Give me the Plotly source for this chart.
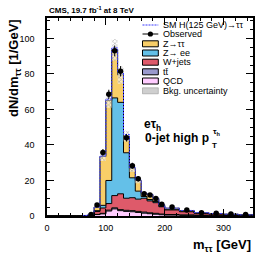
import numpy as np
import plotly.graph_objects as go

# ---------------- data ----------------
edges = [0, 10, 20, 30, 40, 50, 60, 70, 80, 90, 100, 110, 120, 130, 140, 150,
         160, 170, 180, 190, 200, 225, 250, 275, 300, 325, 350]
qcd = [0, 0, 0, 0, 0, 0, 0, 0.2, 0.8, 1.2, 2.8, 4.0, 3.0, 2.6, 2.4, 2.0, 1.6,
       1.3, 1.0, 0.7, 0.5, 0.35, 0.25, 0.15, 0.1, 0.08]
ttbar = [0, 0, 0, 0, 0, 0, 0, 0.0, 0.1, 0.3, 0.5, 0.6, 0.6, 0.6, 0.6, 0.6, 0.6,
         0.5, 0.5, 0.4, 0.35, 0.3, 0.25, 0.2, 0.15, 0.12]
wjets = [0, 0, 0, 0, 0, 0, 0.1, 0.3, 1.6, 3.0, 3.7, 6.9, 8.9, 6.8, 7.3, 6.9, 7.8,
         6.7, 6.0, 4.1, 2.55, 1.75, 1.0, 0.75, 0.55, 0.3]
zee = [0, 0, 0, 0, 0, 0, 0, 0.1, 0.5, 1.5, 13.0, 55.0, 51.5, 25.6, 11.2, 4.5, 1.0,
       0.8, 0.7, 0.4, 0.4, 0.3, 0.2, 0.1, 0.1, 0.05]
ztt = [0, 0, 0, 0, 0, 0, 0.2, 0.4, 2.0, 27.5, 45.0, 27.0, 15.5, 9.4, 5.3, 6.0, 1.8,
       2.7, 1.6, 0.7, 0.6, 0.4, 0.2, 0.2, 0.1, 0.1]
signal = [0, 0, 0, 0, 0, 0, 0, 0, 0, 0.3, 0.8, 1.2, 1.3, 0.9, 0.5, 0.3, 0.2,
          0.1, 0.1, 0.05, 0.03, 0.02, 0.01, 0, 0, 0]
bkg_unc = [0, 0, 0, 0, 0, 0, 0.05, 0.1, 0.4, 2.5, 4.0, 6.0, 5.0, 3.0, 2.0, 1.5, 0.8,
           0.8, 0.6, 0.4, 0.3, 0.2, 0.15, 0.1, 0.08, 0.06]
observed = [None] * 7 + [0.8, 6.2, 35.8, 68.5, 93.0, 81.5, 44.0, 28.3, 21.0, 12.5,
                         11.8, 9.8, 6.6, 5.0, 3.4, 1.9, 1.5, 1.1, 0.8]
observed_err = [None] * 7 + [0.3, 0.8, 1.9, 2.6, 3.0, 2.9, 2.1, 1.7, 1.5, 1.1,
                             1.1, 1.0, 0.8, 0.45, 0.37, 0.28, 0.25, 0.21, 0.18]

legend_labels = ["SM H(125 GeV)→ττ", "Observed", "Z→ττ", "Z→ ee", "W+jets",
                 "tt\u0304", "QCD", "Bkg. uncertainty"]
x_ticks = [0, 100, 200, 300]
y_ticks = [0, 20, 40, 60, 80, 100]

# ---------------- styles ----------------
FONT = "Liberation Sans"
col = {"qcd": "#FFCCFF", "tt": "#9999CC", "w": "#DE5A6A", "zee": "#64C0E8",
       "ztt": "#F8CE68", "sig": "#3B3BFF"}

W, H = 266, 255
L, R, T, B = 47, 13, 18, 39
PW, PH = W - L - R, H - T - B


def px(xp):
    return (xp - L) / PW


def py(yp):
    return (H - B - yp) / PH


def steps(vals):
    v = list(vals)
    return v + [v[-1]]


def bold(size):
    return dict(family=FONT, size=size, color="black", weight="bold")


fig = go.Figure()

# stacked components (bottom to top)
components = [("QCD", qcd, col["qcd"]), ("tt\u0304", ttbar, col["tt"]),
              ("W+jets", wjets, col["w"]), ("Z→ ee", zee, col["zee"]),
              ("Z→ττ", ztt, col["ztt"])]
cum = np.zeros(len(qcd))
for i, (name, vals, c) in enumerate(components):
    cum = cum + np.array(vals, dtype=float)
    fig.add_trace(go.Scatter(
        x=edges, y=steps(cum), mode="lines", line=dict(shape="hv", color="black", width=1),
        fill="tozeroy" if i == 0 else "tonexty", fillcolor=c, name=name, showlegend=False,
        hoverinfo="skip"))
total = cum.copy()

# background uncertainty band (hatched)
unc = np.array(bkg_unc)
fig.add_trace(go.Scatter(x=edges, y=steps(total - unc), mode="lines",
                         line=dict(shape="hv", width=0, color="rgba(0,0,0,0)"),
                         showlegend=False, hoverinfo="skip"))
fig.add_trace(go.Scatter(x=edges, y=steps(total + unc), mode="lines",
                         line=dict(shape="hv", width=0, color="rgba(0,0,0,0)"),
                         fill="tonexty", fillcolor="rgba(0,0,0,0)",
                         fillpattern=dict(shape="x", fgcolor="#707070",
                                          bgcolor="rgba(255,255,255,0.55)", size=3, solidity=0.4),
                         name="Bkg. uncertainty", showlegend=False, hoverinfo="skip"))

# signal stacked on top (dashed)
first = 6
sig_top = total + np.array(signal)
fig.add_trace(go.Scatter(x=edges[first:], y=steps(sig_top[first:]), mode="lines",
                         line=dict(shape="hv", color=col["sig"], width=1, dash="2px,1px"),
                         name="SM H(125 GeV)→ττ", showlegend=False, hoverinfo="skip"))

# observed
centers = [(edges[i] + edges[i + 1]) / 2 for i in range(len(edges) - 1)]
fig.add_trace(go.Scatter(x=centers, y=observed, mode="markers",
                         marker=dict(color="black", size=5.5),
                         error_y=dict(type="data", array=observed_err, color="black",
                                      thickness=1, width=0),
                         name="Observed", showlegend=False))

# ---------------- axes ----------------
axis_common = dict(showline=True, linecolor="black", linewidth=1.5, mirror="allticks",
                   ticks="inside", ticklen=7, tickwidth=1, tickcolor="black",
                   showgrid=False, zeroline=False,
                   tickfont=dict(family=FONT, size=9, color="black"))
fig.update_xaxes(range=[0, 350], tickvals=x_ticks, ticklabelstandoff=2,
                 minor=dict(ticks="inside", ticklen=3.5, dtick=20, tick0=0, tickcolor="black",
                            showgrid=False),
                 **axis_common)
fig.update_yaxes(range=[0, 111.5], tickvals=y_ticks, ticklabelstandoff=9,
                 minor=dict(ticks="inside", ticklen=3.5, dtick=5, tick0=0, tickcolor="black",
                            showgrid=False),
                 **axis_common)

# ---------------- manual legend ----------------
shapes = []
annotations = []
rows = [25, 34, 43.8, 53, 62.2, 71.8, 81, 90.8]
sx0, sx1 = 142.5, 158.3
kinds = ["sig", "obs", "ztt", "zee", "w", "tt", "qcd", "unc"]
for lab, yc, k in zip(legend_labels, rows, kinds):
    if k == "sig":
        shapes.append(dict(type="line", xref="paper", yref="paper", x0=px(sx0), x1=px(sx1),
                           y0=py(yc), y1=py(yc), line=dict(color=col["sig"], width=1.2, dash="2px,1px")))
    elif k == "obs":
        shapes.append(dict(type="line", xref="paper", yref="paper", x0=px(sx0), x1=px(sx1),
                           y0=py(yc), y1=py(yc), line=dict(color="black", width=1)))
        cx = (sx0 + sx1) / 2
        shapes.append(dict(type="circle", xref="paper", yref="paper", x0=px(cx - 2.6), x1=px(cx + 2.6),
                           y0=py(yc + 2.6), y1=py(yc - 2.6), fillcolor="black", line=dict(width=0)))
    else:
        fc = "#cfcfcf" if k == "unc" else col[k]
        lw = 0.6 if k == "unc" else 1
        lc = "#999999" if k == "unc" else "black"
        shapes.append(dict(type="rect", xref="paper", yref="paper", x0=px(sx0), x1=px(sx1),
                           y0=py(yc + 3), y1=py(yc - 3), fillcolor=fc, line=dict(color=lc, width=lw)))
    annotations.append(dict(xref="paper", yref="paper", x=px(161), y=py(yc), xanchor="left",
                            yanchor="middle", text=lab, showarrow=False,
                            font=dict(family=FONT, size=9, color="black")))

# texts
annotations += [
    dict(xref="paper", yref="paper", x=px(47), y=py(17.5), xanchor="left", yanchor="bottom",
         text="CMS, 19.7 fb<sup>-1</sup> at 8 TeV", showarrow=False, font=bold(8)),
    dict(xref="paper", yref="paper", x=px(142), y=py(124.5), xanchor="left", yanchor="middle",
         text="eτ<sub>h</sub>", showarrow=False, font=bold(12)),
    dict(xref="paper", yref="paper", x=px(142.5), y=py(138), xanchor="left", yanchor="middle",
         text="0-jet high p", showarrow=False, font=bold(12)),
    dict(xref="paper", yref="paper", x=px(209.5), y=py(145), xanchor="left", yanchor="middle",
         text="T", showarrow=False, font=bold(8)),
    dict(xref="paper", yref="paper", x=px(210.5), y=py(131.5), xanchor="left", yanchor="middle",
         text="τ<sub>h</sub>", showarrow=False, font=bold(8)),
    dict(xref="paper", yref="paper", x=px(252.5), y=py(245), xanchor="right", yanchor="middle",
         text="m<sub>ττ</sub> [GeV]", showarrow=False, font=bold(13)),
    dict(xref="paper", yref="paper", x=px(14), y=py(17), xanchor="center", yanchor="top",
         textangle=-90, text="dN/dm<sub>ττ</sub> [1/GeV]", showarrow=False, font=bold(13)),
]

fig.update_layout(width=W, height=H, margin=dict(l=L, r=R, t=T, b=B, pad=0),
                  paper_bgcolor="white", plot_bgcolor="white", showlegend=False,
                  shapes=shapes, annotations=annotations)

fig.write_html("out.html", config={"displayModeBar": False},
               post_script="document.body.style.margin='0';document.body.style.overflow='hidden';")
